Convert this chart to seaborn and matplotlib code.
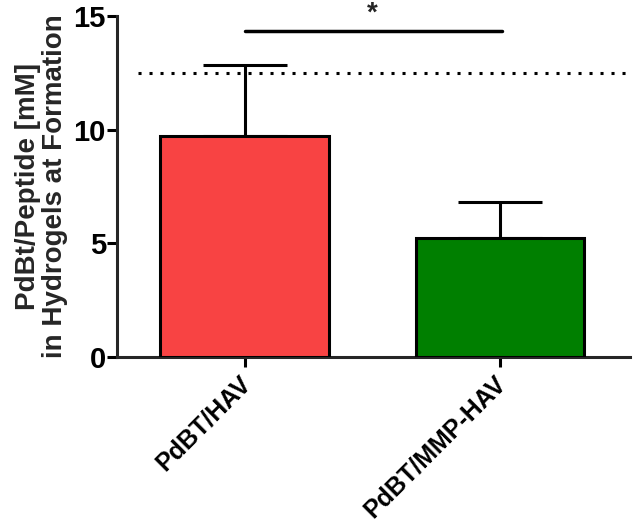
import matplotlib
matplotlib.use("Agg")
import matplotlib.pyplot as plt
import matplotlib.transforms as mtransforms
import seaborn as sns
import pandas as pd

groups = ["PdBT/HAV", "PdBT/MMP-HAV"]
means = [9.7, 5.24]
errs = [3.15, 1.58]
colors = ["#F84343", "#007F00"]
ref_level = 12.5
sig_y = 14.35
sig_label = "*"

sns.set_theme(style="ticks")
plt.rcParams['font.family'] = ['Liberation Sans', 'DejaVu Sans']
plt.rcParams['font.weight'] = 'bold'

df = pd.DataFrame({'group': groups, 'mean': means})

fig = plt.figure(figsize=(6.33, 5.3), dpi=100)
ax = fig.add_axes([0.185, 0.326, 0.81, 0.644])

sns.barplot(data=df, x='group', y='mean', hue='group', palette=colors,
            saturation=1, width=0.66, edgecolor='black', linewidth=2.2,
            legend=False, errorbar=None, ax=ax, zorder=3)

# upper error bars only
ax.errorbar(range(len(groups)), means, yerr=[[0] * len(errs), errs], fmt='none',
            ecolor='black', elinewidth=2.2, capsize=30, capthick=2.2, zorder=2)

ax.axhline(ref_level, xmin=0.04, xmax=1, color='black', linestyle=(0, (1, 2.6)),
           linewidth=2.2, zorder=1)

ax.plot([0, 1.01], [sig_y, sig_y], color='black', linewidth=2.5)
ax.text(0.5, sig_y + 0.2, sig_label, ha='center', va='bottom', fontsize=20, fontweight='bold')

ax.set_xlim(-0.5, 1.51)
ax.set_ylim(0, 15)
ax.set_yticks([0, 5, 10, 15])
ax.set_xlabel('')
ax.set_ylabel('PdBt/Peptide [mM]\nin Hydrogels at Formation', fontsize=20,
              fontweight='bold', labelpad=4, linespacing=1.05)

sns.despine(ax=ax)
for s in ['left', 'bottom']:
    ax.spines[s].set_linewidth(2.2)
ax.tick_params(axis='both', width=2.2, length=7, labelsize=21, colors='black', pad=1)
ax.tick_params(axis='x', labelsize=18, pad=3)
shift = mtransforms.ScaledTranslation(-6 / 100, 0, fig.dpi_scale_trans)
for lab in ax.get_xticklabels():
    lab.set_rotation(45)
    lab.set_ha('right')
    lab.set_rotation_mode('anchor')
    lab.set_fontweight('bold')
    lab.set_transform(lab.get_transform() + shift)
plt.setp(ax.get_yticklabels(), fontweight='bold')

fig.savefig('out.png', dpi=100)
